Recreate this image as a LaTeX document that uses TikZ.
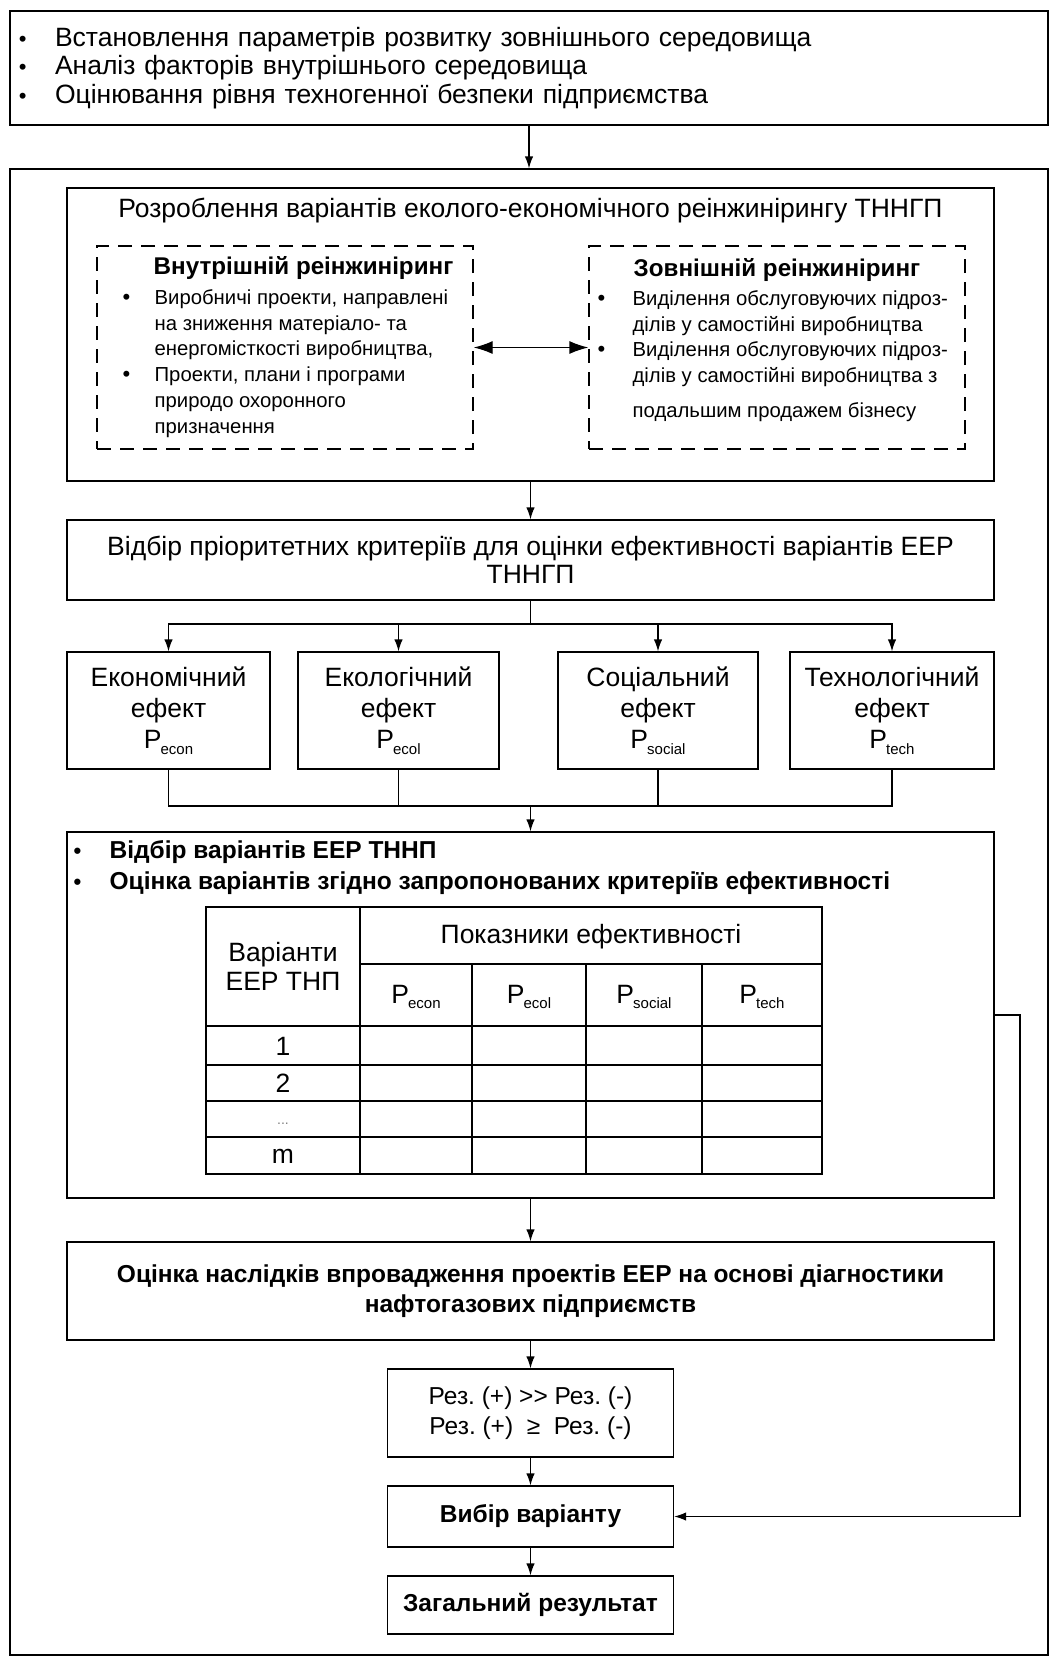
\documentclass[tikz,border=0pt]{standalone}
\usepackage{fontspec}
\setmainfont{Liberation Sans}
\usetikzlibrary{arrows.meta}
\frenchspacing

\newcommand{\txt}{\fontsize{26.5}{28.5}\selectfont}
\newcommand{\btxt}{\fontsize{24.5}{30}\selectfont\bfseries}
\newcommand{\stxt}{\fontsize{20.3}{25.8}\selectfont}
\newcommand{\bul}[1][36pt]{\makebox[#1][l]{\fontsize{22}{22}\selectfont\textbullet}}
\newcommand{\Pidx}[1]{P\kern-1pt\raisebox{-0.22em}{\fontsize{15}{15}\selectfont #1}}

\begin{document}
\begin{tikzpicture}[x=1pt, y=-1pt, line width=1.3pt,
    box/.style={draw, inner sep=0pt, align=center, font=\txt},
    dbox/.style={draw, dash pattern=on 14pt off 9pt, inner sep=0pt},
    arr/.style={-{Latex[length=12pt,width=8.5pt]}},
    arr2/.style={{Latex[length=19pt,width=13pt]}-{Latex[length=19pt,width=13pt]}}]
    \useasboundingbox (0,0) rectangle (1050,1658);

    % starting conditions
    \node[box, minimum width=1038pt, minimum height=114pt, text width=1020pt, align=left] (top) at (529,68)
      {\bul[36pt]Встановлення параметрів розвитку зовнішнього середовища\\
       \bul[36pt]Аналіз факторів внутрішнього середовища\\
       \bul[36pt]Оцінювання рівня техногенної безпеки підприємства};
    \node[draw, minimum width=1038pt, minimum height=1486pt, inner sep=0pt] (frame) at (529,912) {};
    \draw[arr] (top) -- (frame);

    % variants of reengineering
    \node[box, minimum width=927pt, minimum height=293pt] (dev) at (530.5,334.5) {};
    \node[font=\txt] (devtitle) at (530.5,211) {Розроблення варіантів еколого-економічного реінжинірингу ТННГП};
    \node[dbox, minimum width=376pt, minimum height=203pt] (intre) at (285,347.5) {};
    \node[dbox, minimum width=376pt, minimum height=203pt] (extre) at (777,347.5) {};
    \node[font=\fontsize{24.2}{28}\selectfont\bfseries] (intitle) at (303.5,268) {Внутрішній реінжиніринг};
    \node[font=\fontsize{24.2}{28}\selectfont\bfseries] (extitle) at (777,270) {Зовнішній реінжиніринг};
    \node[font=\stxt, align=left, anchor=west, inner sep=0pt] (initems) at (122,363.5)
      {\bul[32pt]Виробничі проекти, направлені\\
       \hspace*{32pt}на зниження матеріало- та\\
       \hspace*{32pt}енергомісткості виробництва,\\
       \bul[32pt]Проекти, плани і програми\\
       \hspace*{32pt}природо охоронного\\
       \hspace*{32pt}призначення};
    \node[font=\stxt, align=left, anchor=west, inner sep=0pt] (exitems) at (597,356)
      {\bul[35pt]Виділення обслуговуючих підроз-\\
       \hspace*{35pt}ділів у самостійні виробництва\\
       \bul[35pt]Виділення обслуговуючих підроз-\\
       \hspace*{35pt}ділів у самостійні виробництва з\\[9pt]
       \hspace*{35pt}подальшим продажем бізнесу};
    \draw[arr2] (intre) -- (extre);

    % criteria
    \node[box, minimum width=927pt, minimum height=80pt] (vidbir) at (530.5,560)
      {Відбір пріоритетних критеріїв для оцінки ефективності варіантів ЕЕР\\ТННГП};
    \draw[arr] (dev) -- (vidbir);
    \foreach \n/\x/\w/\t/\s in {eff1/168.5/203pt/Економічний/econ, eff2/398.5/201pt/Екологічний/ecol,
        eff3/658/200pt/Соціальний/social, eff4/892/204pt/Технологічний/tech}
      \node[box, minimum width=\w, minimum height=117pt, font=\fontsize{26.5}{31}\selectfont] (\n) at (\x,710.5)
        {\t\\ефект\\\Pidx{\s}};
    \coordinate (br) at (530.5,624);
    \draw (vidbir) -- (br);
    \foreach \n in {eff1,eff2,eff3,eff4}
      \draw[arr] (br) -| (\n);

    % selection of variants
    \node[box, minimum width=927pt, minimum height=366pt] (sel) at (530.5,1015) {};
    \coordinate (mg) at (530.5,806);
    \foreach \n in {eff1,eff2,eff3,eff4}
      \draw (\n) |- (mg);
    \draw[arr] (mg) -- (sel);
    \node[font=\fontsize{24.5}{31}\selectfont\bfseries, align=left, anchor=west, inner sep=0pt] (selitems) at (73,867.5)
      {\bul[36pt]Відбір варіантів ЕЕР ТННП\\
       \bul[36pt]Оцінка варіантів згідно запропонованих критеріїв ефективності};

    % table
    \draw (206,907) rectangle (822,1174);
    \draw (360,907) -- (360,1174);
    \draw (360,964) -- (822,964);
    \foreach \y in {1026,1065,1101,1137}
      \draw (206,\y) -- (822,\y);
    \foreach \x in {472,586,702}
      \draw (\x,964) -- (\x,1174);
    \node[font=\fontsize{26.5}{29}\selectfont, align=center] (hvar) at (283,966) {Варіанти\\ЕЕР ТНП};
    \node[font=\txt] (hpok) at (591,937) {Показники ефективності};
    \foreach \n/\x/\s in {hp1/416/econ, hp2/529/ecol, hp3/644/social, hp4/762/tech}
      \node[font=\txt] (\n) at (\x,997) {\Pidx{\s}};
    \foreach \n/\y/\t in {r1/1046/1, r2/1083/2, r4/1156/m}
      \node[font=\txt] (\n) at (283,\y) {\t};
    \node[font=\fontsize{14}{14}\selectfont, text=gray] (r3) at (283,1124) {...};

    % consequences and result
    \node[box, font=\btxt, minimum width=927pt, minimum height=98pt] (ocinka) at (530.5,1291)
      {Оцінка наслідків впровадження проектів ЕЕР на основі діагностики\\нафтогазових підприємств};
    \node[box, font=\fontsize{24.5}{30}\selectfont, minimum width=286pt, minimum height=88pt] (rez) at (530.5,1413)
      {Рез. (+) >{}> Рез. (-)\\Рез. (+) \ ≥ \ Рез. (-)};
    \node[box, font=\btxt, minimum width=286pt, minimum height=61pt] (vybir) at (530.5,1516.5) {Вибір варіанту};
    \node[box, font=\btxt, minimum width=286pt, minimum height=58pt] (zag) at (530.5,1605) {Загальний результат};
    \draw[arr] (sel) -- (ocinka);
    \draw[arr] (ocinka) -- (rez);
    \draw[arr] (rez) -- (vybir);
    \draw[arr] (vybir) -- (zag);
    \coordinate (fb) at (1020,1015);
    \draw[arr] (sel.east) -- (fb) |- (vybir.east);
\end{tikzpicture}
\end{document}
